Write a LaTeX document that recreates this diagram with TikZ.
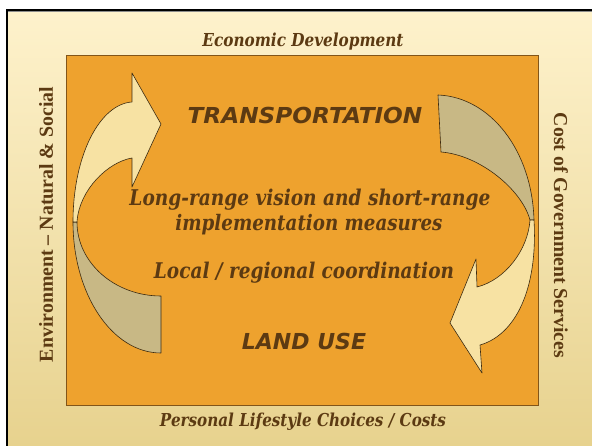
\documentclass[tikz,border=0pt]{standalone}
\usepackage{fontspec}
\setmainfont{DejaVu Serif}
\newfontfamily\sidefont{Liberation Serif}
\newfontfamily\capsfont{DejaVu Sans}
\usepackage{graphicx}
\definecolor{txt}{RGB}{92,58,18}
\definecolor{bgtop}{RGB}{254,242,204}
\definecolor{bgbot}{RGB}{231,210,142}
\definecolor{boxfill}{RGB}{238,162,46}
\definecolor{boxline}{RGB}{130,85,25}
\definecolor{cream}{RGB}{247,226,163}
\definecolor{khaki}{RGB}{200,184,133}
\definecolor{arrline}{RGB}{60,42,15}
\newcommand{\fitw}[2]{\resizebox{#1}{!}{#2}}
\newcommand{\fitwt}[2]{\resizebox{#1}{!}{\scalebox{1}[1.17]{#2}}}
\tikzset{
  serbi/.style={text=txt, inner sep=0pt, font=\bfseries\itshape},
  sidelab/.style={text=txt, inner sep=0pt, font=\sidefont\bfseries},
  bigcap/.style={text=txt, inner sep=0pt, font=\capsfont\bfseries\itshape\fontsize{22}{26}\selectfont},
  arrpart/.style={draw=arrline, line width=0.6pt, line join=round}
}
\begin{document}
\begin{tikzpicture}[x=1pt,y=-1pt]
\useasboundingbox (0,0) rectangle (592,446);
\fill[white] (0,0) rectangle (592,446);
\shade[top color=bgtop, bottom color=bgbot] (7,10) rectangle (592,446);
\draw[line width=0.8pt, black!45] (8,11.6) -- (592,11.6);
\draw[line width=2pt, black] (7,446) -- (7,10) -- (592,10);
% main box
\node[draw=boxline, fill=boxfill, line width=0.8pt, minimum width=472pt, minimum height=350pt, inner sep=0pt] (box) at (302,230) {};
% left arrow: khaki back part
\path[arrpart, fill=khaki] (161,296) .. controls (115,296) and (77,263) .. (77,222)
  -- (73,222) .. controls (73,294) and (112,353) .. (161,353) -- cycle;
% left arrow: cream front part
\path[arrpart, fill=cream] (73,222) .. controls (73,155) and (100,104) .. (132,102)
  -- (132,73) -- (161,124) -- (132,187) -- (132,158)
  .. controls (108,162) and (79,190) .. (77,222) -- cycle;
% right arrow: khaki back part
\path[arrpart, fill=khaki] (438,95) -- (441,152) .. controls (480,155) and (522,190) .. (530,220)
  -- (534,220) .. controls (532,150) and (490,97) .. (438,95) -- cycle;
% right arrow: cream front part
\path[arrpart, fill=cream] (534,220) .. controls (538,290) and (515,335) .. (480,345)
  -- (482,373) -- (450,323) -- (476,259) -- (477,287)
  .. controls (505,280) and (528,250) .. (530,220) -- cycle;
% texts
\node[serbi] (econ) at (303,42) {\fitwt{201pt}{Economic Development}};
\node[serbi] (pers) at (303,422) {\fitwt{286pt}{Personal Lifestyle Choices / Costs}};
\node[sidelab, rotate=90] (env) at (46,224.5) {\fitw{275pt}{Environment – Natural \& Social}};
\node[sidelab, rotate=-90] (cost) at (561,235.5) {\fitw{245pt}{Cost of Government Services}};
\node[bigcap] (trans) at (305,115) {\scalebox{1.055}[1]{TRANSPORTATION}};
\node[bigcap] (land) at (304,341) {LAND USE};
\node[serbi] (long1) at (310,200) {\fitwt{361pt}{Long-range vision and short-range}};
\node[serbi] (long2) at (309,225) {\fitwt{267pt}{implementation measures}};
\node[serbi] (local) at (304,273) {\fitwt{300pt}{Local / regional coordination}};
\end{tikzpicture}
\end{document}
